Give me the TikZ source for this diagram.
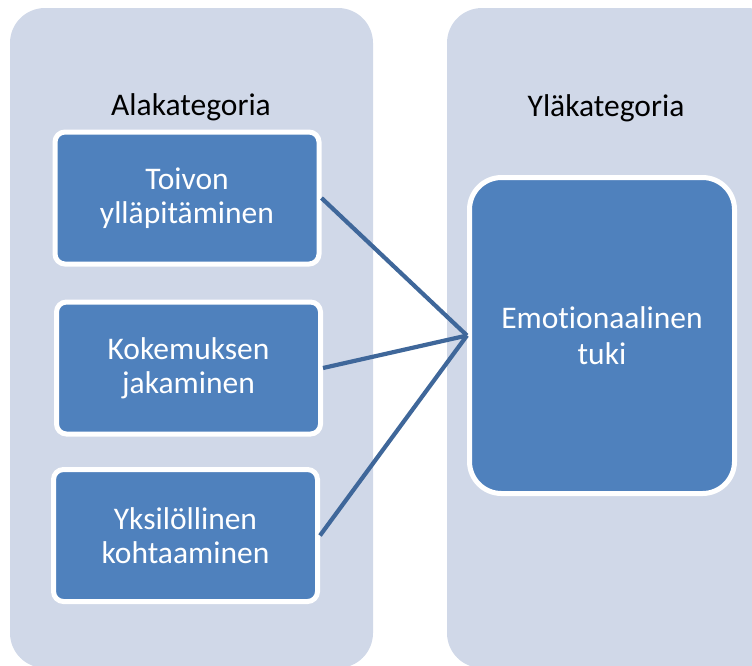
\documentclass[tikz,border=0pt]{standalone}
\usepackage{fontspec}
\setmainfont{Carlito}[Ligatures=NoCommon]
\definecolor{panelfill}{HTML}{D0D8E8}
\definecolor{boxfill}{HTML}{4F81BD}
\definecolor{linkcol}{HTML}{3F679A}
\begin{document}
\begin{tikzpicture}[x=1pt,y=-1pt,
  panel/.style={fill=panelfill,rounded corners=35pt},
  subbox/.style={draw=white,line width=5pt,fill=boxfill,rounded corners=10pt,
    minimum width=264pt,minimum height=132pt,inner sep=0pt,align=center,
    text=white,font=\fontsize{31.5}{34}\selectfont},
  mainbox/.style={subbox,rounded corners=32pt,minimum width=265pt,minimum height=316pt,
    font=\fontsize{31.5}{36}\selectfont},
  heading/.style={anchor=base,inner sep=0pt,text=black,font=\fontsize{31.5}{36}\selectfont},
  link/.style={draw=linkcol,line width=4.2pt}]
\useasboundingbox (0,0) rectangle (752,665);
% category columns
\begin{scope}
  \clip (0,0) rectangle (752,665);
  \fill[panel] (10,8) rectangle (373,668);
  \fill[panel] (447,8) rectangle (782,668);
\end{scope}
% column headings
\node[heading] (hsub) at (191,115) {Alakategoria};
\node[heading] (hmain) at (606,116) {Yläkategoria};
% subcategories
\node[subbox] (s1) at (187,198) {Toivon\\ylläpitäminen};
\node[subbox] (s2) at (188.5,368) {Kokemuksen\\jakaminen};
\node[subbox] (s3) at (185.5,535.5) {Yksilöllinen\\kohtaaminen};
% main category
\node[mainbox] (m) at (602,335.5) {Emotionaalinen\\tuki};
% connectors
\draw[link] (s1.east) -- (m.west);
\draw[link] (s2.east) -- (m.west);
\draw[link] (s3.east) -- (m.west);
\end{tikzpicture}
\end{document}
